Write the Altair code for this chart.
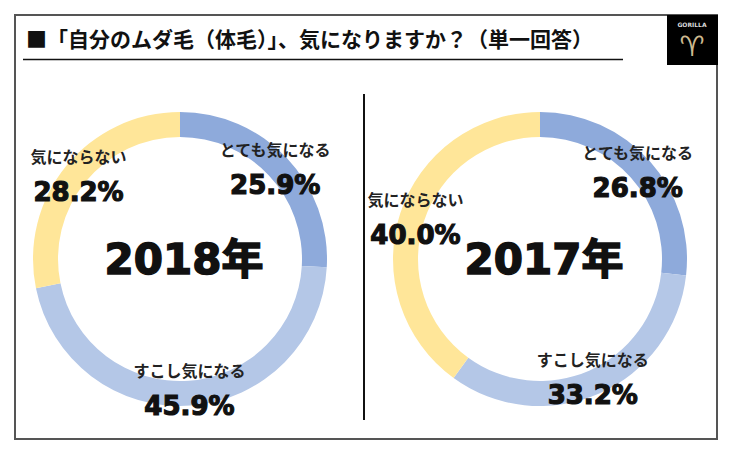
import altair as alt
import pandas as pd

# ---- data ----
title_text = "■「自分のムダ毛（体毛）」、気になりますか？（単一回答）"
years = ["2018年", "2017年"]
categories = ["とても気になる", "すこし気になる", "気にならない"]
values_2018 = [25.9, 45.9, 28.2]
values_2017 = [26.8, 33.2, 40.0]
colors = ["#8eaadb", "#b4c7e7", "#ffe699"]
logo_text = "GORILLA"

rows = []
for year, vals in zip(years, [values_2018, values_2017]):
    for i, (c, v) in enumerate(zip(categories, vals)):
        rows.append({"year": year, "category": c, "rank": i, "value": v,
                     "pct": f"{v:.1f}%"})
df = pd.DataFrame(rows)
df_years = pd.DataFrame({"year": years})
one = pd.DataFrame({"k": [0]})

W, H = 702, 424
CY = 244

x_enc = alt.X("year:N", scale=alt.Scale(type="point", domain=years, range=[165, 525], padding=0), axis=None)
theta_scale = alt.Scale(domain=[0, 100])

base = alt.Chart(df).transform_window(
    end="sum(value)", groupby=["year"], sort=[alt.SortField("rank", order="ascending")],
    frame=[None, 0]
).transform_calculate(
    start="datum.end - datum.value",
    mid="datum.end - datum.value / 2"
).encode(x=x_enc, y=alt.value(CY))

arcs = base.mark_arc(radius=147, radius2=122).encode(
    theta=alt.Theta("start:Q", scale=theta_scale),
    theta2="end:Q",
    color=alt.Color("category:N", scale=alt.Scale(domain=categories, range=colors), legend=None)
)

names = base.mark_text(radius=131, dy=-18, font="Noto Sans CJK JP", fontWeight="bold",
                       fontSize=16, color="#222", baseline="middle", align="center").encode(
    theta=alt.Theta("mid:Q", scale=theta_scale), text="category:N"
)
pcts = base.mark_text(radius=131, dy=17, font="DejaVu Sans", fontWeight="bold",
                      fontSize=26, color="#111", stroke="#111", strokeWidth=1.2,
                      baseline="middle", align="center").encode(
    theta=alt.Theta("mid:Q", scale=theta_scale), text="pct:N"
)

centers = alt.Chart(df_years).mark_text(font="DejaVu Sans, Noto Sans CJK JP", fontWeight="bold",
                                         fontSize=42, color="#111", stroke="#111", strokeWidth=1.5,
                                         baseline="middle", align="center", dx=4).encode(
    x=x_enc, y=alt.value(CY + 2), text="year:N"
)

title = alt.Chart(one).mark_text(text=title_text, font="Noto Sans CJK JP", fontWeight="bold",
                                 fontSize=21, color="#111", align="left", baseline="middle").encode(
    x=alt.value(11), y=alt.value(26)
)
underline = alt.Chart(one).mark_rule(color="#111", strokeWidth=1.5).encode(
    x=alt.value(8), x2=alt.value(608), y=alt.value(44.5)
)
divider = alt.Chart(one).mark_rule(color="#111", strokeWidth=2).encode(
    x=alt.value(349), y=alt.value(79), y2=alt.value(405)
)
logo_box = alt.Chart(one).mark_rect(color="#000").encode(
    x=alt.value(652), x2=alt.value(703), y=alt.value(0), y2=alt.value(50)
)
logo_name = alt.Chart(one).mark_text(text=logo_text, font="DejaVu Sans", fontWeight="bold",
                                     fontSize=6, color="#ddd").encode(
    x=alt.value(677), y=alt.value(10)
)
logo_mark = alt.Chart(one).mark_text(text="♈", font="DejaVu Sans", fontSize=28,
                                     color="#cdb98f", baseline="middle").encode(
    x=alt.value(677), y=alt.value(33)
)

chart = alt.layer(arcs, names, pcts, centers, title, underline, divider,
                  logo_box, logo_name, logo_mark).properties(
    width=W, height=H, padding={"left": 7, "top": 7, "right": 7, "bottom": 7},
    background="white"
).configure_view(stroke="#555", strokeWidth=2)

chart.save("out.html", embed_options={"renderer": "svg", "actions": False})
